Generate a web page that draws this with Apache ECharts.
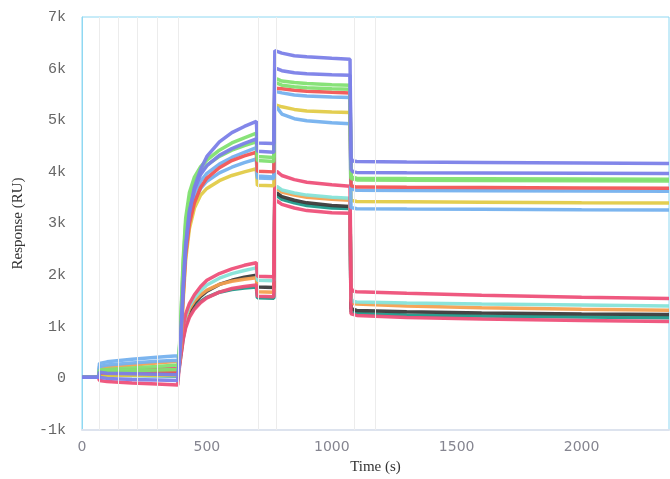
<!DOCTYPE html>
<html>
<head>
<meta charset="utf-8">
<script src="https://cdn.jsdelivr.net/npm/echarts@6/dist/echarts.min.js"></script>
<style>
  html, body { margin: 0; padding: 0; background: #fff; }
  #chart { width: 670px; height: 479px; }
</style>
</head>
<body>
<div id="chart"></div>
<script>
// shared time axis (s)
const times = [0, 66, 70, 100, 200, 300, 383, 387, 395, 405, 415, 430, 450, 475, 500, 550, 600, 650, 698,
  702, 768, 772, 780, 800, 850, 900, 1000, 1073, 1077, 1085, 1100, 1300, 1600, 2000, 2350]

// injection / event markers
const eventTimes = [68, 144, 220, 300, 384, 704, 776, 1088, 1176]

// upper group
const violetA = [20, 20, 10, 0, -20, -30, -40, 150, 700, 1700, 2500, 3200, 3700, 4050, 4300, 4580, 4760, 4880, 4980,
  4560, 4550, 6350, 6380, 6300, 6250, 6230, 6200, 6180, 4260, 4210, 4200, 4190, 4180, 4170, 4160]
const violetB = [20, 20, 120, 100, 90, 80, 70, 200, 800, 1800, 2600, 3250, 3650, 3950, 4120, 4320, 4450, 4550, 4640,
  4400, 4380, 5960, 6000, 5960, 5920, 5900, 5880, 5870, 4050, 4000, 3990, 3985, 3980, 3975, 3970]
const greenA = [20, 20, 160, 170, 200, 230, 260, 300, 1100, 2300, 3100, 3600, 3900, 4100, 4230, 4420, 4560, 4660, 4750,
  4300, 4280, 5750, 5800, 5760, 5730, 5710, 5690, 5680, 3900, 3880, 3875, 3870, 3865, 3860, 3855]
const greenB = [20, 20, 140, 140, 150, 160, 170, 280, 1000, 2200, 3000, 3500, 3800, 4000, 4130, 4300, 4420, 4510, 4580,
  4220, 4200, 5680, 5720, 5680, 5650, 5630, 5610, 5600, 3870, 3850, 3845, 3840, 3835, 3830, 3825]
const red = [20, 20, 100, 110, 120, 130, 140, 220, 700, 1600, 2400, 3000, 3400, 3700, 3880, 4080, 4220, 4310, 4380,
  4010, 4000, 5620, 5650, 5610, 5580, 5560, 5540, 5530, 3730, 3710, 3705, 3700, 3695, 3690, 3685]
const blueA = [20, 20, 290, 320, 370, 410, 440, 350, 900, 1900, 2700, 3250, 3580, 3820, 3970, 4150, 4280, 4380, 4470,
  3920, 3900, 5560, 5580, 5530, 5490, 5470, 5450, 5440, 3670, 3650, 3645, 3640, 3635, 3630, 3625]
const yellow = [20, 20, 60, 60, 60, 60, 60, 150, 600, 1500, 2300, 2900, 3300, 3550, 3680, 3830, 3930, 4000, 4060,
  3740, 3730, 5300, 5330, 5260, 5210, 5180, 5160, 5150, 3450, 3430, 3425, 3420, 3410, 3400, 3395]
const blueB = [20, 20, 230, 260, 300, 330, 350, 300, 850, 1800, 2600, 3150, 3450, 3680, 3820, 3980, 4090, 4180, 4250,
  3880, 3870, 5200, 5250, 5120, 5030, 4990, 4950, 4930, 3310, 3290, 3285, 3280, 3275, 3265, 3260]

// lower group
const pinkTop = [20, 20, 150, 160, 170, 180, 190, 250, 600, 1000, 1250, 1450, 1620, 1780, 1900, 2030, 2120, 2190, 2240,
  1980, 1970, 3950, 4010, 3930, 3850, 3800, 3750, 3720, 1750, 1690, 1680, 1650, 1610, 1570, 1545]
const cyan = [20, 20, 120, 130, 140, 150, 160, 230, 550, 950, 1200, 1400, 1560, 1700, 1810, 1940, 2030, 2090, 2140,
  1900, 1890, 3650, 3720, 3650, 3590, 3550, 3510, 3490, 1550, 1490, 1480, 1460, 1440, 1420, 1400]
const orange = [20, 20, 200, 220, 260, 300, 330, 250, 520, 900, 1150, 1350, 1500, 1620, 1710, 1820, 1880, 1920, 1950,
  1680, 1670, 3620, 3680, 3610, 3550, 3510, 3470, 3450, 1500, 1450, 1440, 1400, 1370, 1340, 1320]
const black = [20, 20, 80, 80, 85, 90, 95, 200, 480, 850, 1100, 1300, 1460, 1590, 1690, 1820, 1900, 1960, 2000,
  1770, 1760, 3520, 3590, 3520, 3450, 3400, 3350, 3330, 1350, 1320, 1315, 1290, 1265, 1245, 1235]
const teal = [20, 20, 60, 60, 55, 50, 45, 150, 420, 780, 1020, 1220, 1370, 1490, 1570, 1670, 1720, 1750, 1770,
  1560, 1550, 3480, 3540, 3470, 3400, 3350, 3300, 3290, 1290, 1260, 1255, 1230, 1210, 1190, 1175]
const pinkBot = [20, 20, -40, -60, -90, -110, -130, 100, 400, 750, 980, 1180, 1340, 1470, 1560, 1670, 1740, 1780, 1810,
  1590, 1580, 3380, 3440, 3370, 3300, 3250, 3210, 3200, 1250, 1230, 1220, 1180, 1150, 1120, 1100]

const curves = [
  { name: 'teal', data: teal, color: '#1f9a8a' },
  { name: 'black', data: black, color: '#3b3b3b' },
  { name: 'orange', data: orange, color: '#f6a050' },
  { name: 'cyan', data: cyan, color: '#86e3d8' },
  { name: 'pinkBot', data: pinkBot, color: '#ee5079' },
  { name: 'pinkTop', data: pinkTop, color: '#ee5079' },
  { name: 'yellow', data: yellow, color: '#e2cb48' },
  { name: 'blueB', data: blueB, color: '#75b1ee' },
  { name: 'blueA', data: blueA, color: '#75b1ee' },
  { name: 'red', data: red, color: '#f25555' },
  { name: 'greenB', data: greenB, color: '#82e072' },
  { name: 'greenA', data: greenA, color: '#82e072' },
  { name: 'violetB', data: violetB, color: '#7b7fe8' },
  { name: 'violetA', data: violetA, color: '#7b7fe8' }
]

const chart = echarts.init(document.getElementById('chart'))

const series = [{
  name: 'events',
  type: 'line',
  data: [],
  z: 1,
  markLine: {
    silent: true,
    symbol: 'none',
    label: { show: false },
    lineStyle: { color: '#ececec', width: 1, type: 'solid' },
    data: eventTimes.map(t => ({ xAxis: t }))
  }
}]

curves.forEach(c => {
  series.push({
    name: c.name,
    type: 'line',
    z: 3,
    showSymbol: false,
    data: times.map((t, i) => [t, c.data[i]]),
    lineStyle: { color: c.color, width: 3.5, opacity: 0.95 },
    itemStyle: { color: c.color }
  })
})

const option = {
  animation: false,
  backgroundColor: '#fff',
  grid: {
    left: 82,
    right: 1,
    top: 17,
    bottom: 49,
    outerBoundsMode: 'none',
    containLabel: false,
    show: true,
    borderColor: '#8fd8f2',
    borderWidth: 1
  },
  xAxis: {
    type: 'value',
    min: 0,
    max: 2350,
    interval: 500,
    name: 'Time (s)',
    nameLocation: 'middle',
    nameGap: 30,
    nameTextStyle: { fontFamily: 'Liberation Serif', fontSize: 15, color: '#333' },
    axisLine: { show: true, onZero: false, lineStyle: { color: '#dde3ee', width: 2 } },
    axisTick: { show: false },
    splitLine: { show: false },
    axisLabel: {
      fontFamily: 'DejaVu Sans',
      fontSize: 14,
      color: '#858590',
      margin: 10,
      showMaxLabel: false,
      formatter: v => String(v)
    }
  },
  yAxis: {
    type: 'value',
    min: -1000,
    max: 7000,
    interval: 1000,
    name: 'Response (RU)',
    nameLocation: 'middle',
    nameGap: 56,
    nameTextStyle: { fontFamily: 'Liberation Serif', fontSize: 15, color: '#333' },
    axisLine: { show: true, lineStyle: { color: '#8fd8f2', width: 1 } },
    axisTick: { show: false },
    splitLine: { show: false },
    axisLabel: {
      fontFamily: 'Liberation Mono',
      fontSize: 15,
      color: '#666',
      margin: 16,
      formatter: v => (v === 0 ? '0' : (v / 1000) + 'k')
    }
  },
  series: series
}

chart.setOption(option)
</script>
</body>
</html>
